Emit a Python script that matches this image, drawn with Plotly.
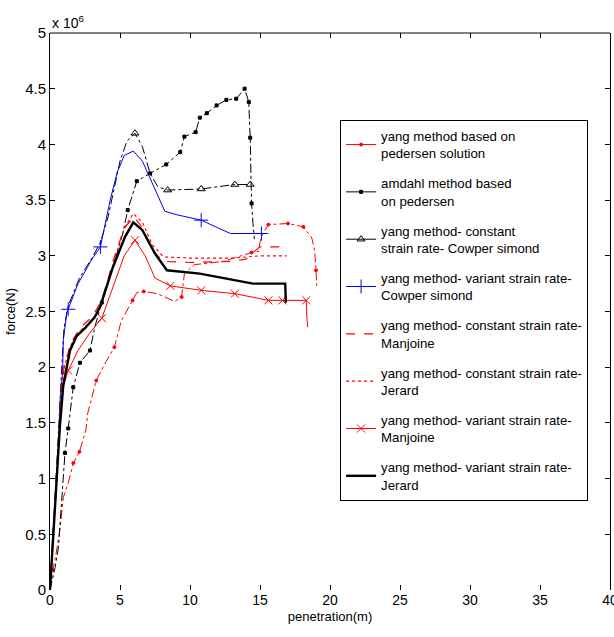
import plotly.graph_objects as go

# ---------------- data ----------------
pedersen_x = [0, 0.2, 0.4, 0.71, 0.95, 1.3, 1.67, 2.1, 2.57, 2.7, 3.3, 4.0, 4.6, 5.1, 5.9, 6.2, 6.7, 7.7, 8.9, 9.4, 9.6, 10.3,
              12.4, 13.6, 14.4, 14.9, 15.0, 15.2, 15.6, 17.0, 18.1, 18.7, 18.9, 19.0, 19.05]
pedersen_y = [0, 0.18, 0.3, 0.54, 0.83, 0.96, 1.14, 1.24, 1.44, 1.59, 1.88, 2.05, 2.18, 2.42, 2.6, 2.67, 2.68, 2.66, 2.59, 2.63, 2.84, 2.92,
              2.95, 3.0, 3.03, 3.04, 3.12, 3.2, 3.28, 3.29, 3.26, 3.16, 3.05, 2.87, 2.73]

amdahl_x = [0, 0.36, 0.6, 0.84, 0.95, 1.07, 1.3, 1.66, 2.14, 2.86, 3.2, 3.7, 4.5, 5.2, 5.55, 6.2, 7.15, 8.3, 9.3, 9.6,
            10.4, 10.7, 11.2, 11.9, 12.6, 13.3, 13.9, 14.2, 14.25, 14.3, 14.35, 14.4, 14.5, 14.6]
amdahl_y = [0, 0.2, 0.38, 0.81, 1.08, 1.23, 1.45, 1.82, 2.04, 2.15, 2.36, 2.58, 2.9, 3.2, 3.41, 3.67, 3.74, 3.82, 3.93, 4.07,
            4.11, 4.24, 4.28, 4.35, 4.4, 4.41, 4.5, 4.38, 4.21, 4.06, 3.74, 3.47, 3.29, 3.15]

cs_const_x = [0, 0.2, 0.4, 0.6, 0.8, 1.0, 1.3, 2.1, 3.0, 3.6, 4.15, 4.5, 5.0, 5.5, 6.07, 6.6, 7.15, 7.7, 8.4, 10.8, 13.2, 14.3]
cs_const_y = [0, 0.45, 0.85, 1.4, 1.9, 2.35, 2.55, 2.8, 2.98, 3.12, 3.35, 3.56, 3.85, 4.03, 4.1, 3.98, 3.74, 3.62, 3.59, 3.6, 3.64, 3.64]

cs_var_x = [0, 0.2, 0.4, 0.6, 0.71, 0.9, 0.95, 1.2, 1.3, 2.0, 3.0, 3.6, 4.3, 4.8, 5.3, 5.95, 6.6, 7.4, 8.2, 9.0,
            10.8, 12.0, 12.9, 15.1]
cs_var_y = [0, 0.5, 0.8, 1.24, 1.68, 1.96, 2.24, 2.49, 2.52, 2.75, 2.97, 3.08, 3.5, 3.75, 3.9, 3.94, 3.85, 3.62, 3.4, 3.37,
            3.32, 3.25, 3.2, 3.2]

mj_const_x = [0, 0.2, 0.4, 0.6, 0.8, 1.0, 1.5, 2.2, 3.0, 3.7, 4.5, 5.3, 6.0, 6.6, 7.3, 8.1, 10.0, 13.0, 14.0, 14.6, 15.0, 16.9]
mj_const_y = [0, 0.45, 0.9, 1.35, 1.75, 2.0, 2.22, 2.36, 2.45, 2.6, 2.95, 3.25, 3.35, 3.25, 3.05, 2.95, 2.94, 2.95, 2.97, 3.04, 3.08, 3.08]

jr_const_x = [0, 0.2, 0.4, 0.6, 0.8, 1.0, 1.5, 2.2, 3.0, 3.7, 4.5, 5.3, 5.95, 6.6, 7.3, 8.1, 10.0, 13.1, 15.0, 16.9]
jr_const_y = [0, 0.45, 0.9, 1.35, 1.75, 2.0, 2.2, 2.33, 2.42, 2.56, 2.92, 3.25, 3.38, 3.3, 3.1, 2.99, 2.98, 2.98, 3.0, 3.0]

mj_var_x = [0, 0.2, 0.4, 0.6, 0.8, 1.0, 1.3, 2.0, 2.8, 3.7, 4.5, 5.3, 6.07, 6.8, 7.5, 8.6, 10.8, 13.2, 15.6, 16.6, 18.3, 18.35, 18.4]
mj_var_y = [0, 0.4, 0.85, 1.3, 1.65, 1.85, 1.97, 2.15, 2.3, 2.44, 2.72, 3.0, 3.14, 3.0, 2.8, 2.73, 2.69, 2.66, 2.6, 2.6, 2.6, 2.45, 2.36]

jr_var_x = [0, 0.15, 0.3, 0.45, 0.55, 0.7, 0.95, 1.2, 1.43, 1.9, 2.5, 3.2, 3.6, 4.5, 5.36, 5.95, 6.6, 7.5, 8.35, 10.7, 13.1, 14.5, 16.8, 16.85]
jr_var_y = [0, 0.3, 0.6, 0.95, 1.15, 1.46, 1.84, 2.0, 2.15, 2.28, 2.35, 2.45, 2.55, 2.9, 3.17, 3.3, 3.23, 3.02, 2.87, 2.84, 2.78, 2.75, 2.75, 2.58]

series_names = [
    "yang method based on<br>pedersen solution",
    "amdahl method based<br>on pedersen",
    "yang method- constant<br>strain rate- Cowper simond",
    "yang method- variant strain rate-<br>Cowper simond",
    "yang method- constant strain rate-<br>Manjoine",
    "yang method- constant strain rate-<br>Jerard",
    "yang method- variant strain rate-<br>Manjoine",
    "yang method- variant strain rate-<br>Jerard",
]

x_ticks = [0, 5, 10, 15, 20, 25, 30, 35, 40]
y_ticks = [0, 0.5, 1, 1.5, 2, 2.5, 3, 3.5, 4, 4.5, 5]
y_tick_labels = ["0", "0.5", "1", "1.5", "2", "2.5", "3", "3.5", "4", "4.5", "5"]

# ---------------- styles ----------------
RED = "#ff0000"
BLUE = "#0000ff"
BLACK = "#000000"

styles = [
    dict(x=pedersen_x, y=pedersen_y, color=RED, dash="dashdot", width=1, symbol="circle", msize=3,
         marks=[1, 6, 7, 10, 12, 14, 16, 19, 24, 28, 29, 30, 33]),
    dict(x=amdahl_x, y=amdahl_y, color=BLACK, dash="dashdot", width=1, symbol="square", msize=3,
         marks=[5, 6, 7, 8, 9, 11, 14, 15, 16, 17, 18, 19, 20, 21, 22, 23, 24, 25, 26, 27, 29, 31]),
    dict(x=cs_const_x, y=cs_const_y, color=BLACK, dash="dashdot", width=1, symbol="triangle-up-open", msize=7,
         marks=[14, 18, 19, 20, 21]),
    dict(x=cs_var_x, y=cs_var_y, color=BLUE, dash="solid", width=1, symbol="cross-thin-open", msize=10,
         marks=[8, 11, 20, 23]),
    dict(x=mj_const_x, y=mj_const_y, color=RED, dash="dash", width=1.2, symbol=None, msize=0, marks=[]),
    dict(x=jr_const_x, y=jr_const_y, color=RED, dash="dot", width=1.2, symbol=None, msize=0, marks=[]),
    dict(x=mj_var_x, y=mj_var_y, color=RED, dash="solid", width=1, symbol="x-thin-open", msize=8,
         marks=[6, 9, 12, 15, 16, 17, 18, 19, 20]),
    dict(x=jr_var_x, y=jr_var_y, color=BLACK, dash="solid", width=2.4, symbol=None, msize=0, marks=[]),
]

fig = go.Figure()
for i, (name, st) in enumerate(zip(series_names, styles)):
    grp = "g%d" % i
    fig.add_trace(go.Scatter(
        x=st["x"], y=st["y"], mode="lines", showlegend=False, legendgroup=grp,
        line=dict(color=st["color"], dash=st["dash"], width=st["width"]), hoverinfo="skip"))
    if st["marks"]:
        fig.add_trace(go.Scatter(
            x=[st["x"][k] for k in st["marks"]], y=[st["y"][k] for k in st["marks"]],
            mode="markers", showlegend=False, legendgroup=grp,
            marker=dict(color=st["color"], symbol=st["symbol"], size=st["msize"],
                        line=dict(color=st["color"], width=1)), hoverinfo="skip"))
    # legend entry
    leg_mode = "lines+markers" if st["marks"] else "lines"
    fig.add_trace(go.Scatter(
        x=[None], y=[None], mode=leg_mode, name=name, legendgroup=grp, showlegend=True,
        line=dict(color=st["color"], dash="solid" if st["dash"] == "dashdot" else st["dash"], width=st["width"]),
        marker=dict(color=st["color"], symbol=st["symbol"] or "circle", size=max(st["msize"], 3) if st["marks"] else 0,
                    line=dict(color=st["color"], width=1))))

FONT = "Liberation Sans Narrow, Arial Narrow, Liberation Sans, Arial, sans-serif"

fig.update_layout(
    width=614, height=637,
    margin=dict(l=50, r=4, t=33, b=47, autoexpand=False),
    paper_bgcolor="white", plot_bgcolor="white",
    font=dict(family=FONT, size=14, color="black"),
    showlegend=True,
    legend=dict(
        x=0.518, y=0.844, xanchor="left", yanchor="top",
        bgcolor="white", bordercolor="black", borderwidth=1,
        font=dict(family=FONT, size=13.2, color="black"),
        tracegroupgap=10, itemwidth=30, traceorder="grouped",
    ),
    xaxis=dict(
        range=[0, 40], tickvals=x_ticks, ticks="inside", ticklen=5, tickcolor="black",
        showline=False, mirror="ticks", showgrid=False, zeroline=False, automargin=False,
        ticklabeloverflow="allow",
        title=dict(text="penetration(m)", font=dict(size=13), standoff=4),
        tickfont=dict(size=14),
    ),
    yaxis=dict(
        range=[0, 5], tickvals=y_ticks, ticktext=y_tick_labels, ticks="inside", ticklen=5, tickcolor="black",
        showline=True, linecolor="black", linewidth=1, mirror="ticks", showgrid=False, zeroline=False,
        automargin=False, ticklabeloverflow="allow",
        title=dict(text="force(N)", font=dict(size=13), standoff=6),
        tickfont=dict(size=15),
    ),
)

# top frame line (bottom frame line is not visible in the reference)
fig.add_shape(type="line", xref="paper", yref="paper", x0=0, x1=1, y0=1, y1=1,
              line=dict(color="black", width=1))

fig.add_annotation(text="x 10<sup>6</sup>", xref="paper", yref="paper", x=0.0, y=1.0,
                   xanchor="left", yanchor="bottom", showarrow=False,
                   font=dict(family=FONT, size=14, color="black"))

fig.write_html("out.html", config={"displayModeBar": False},
               post_script="document.body.style.margin='0';document.body.style.overflow='hidden';")
